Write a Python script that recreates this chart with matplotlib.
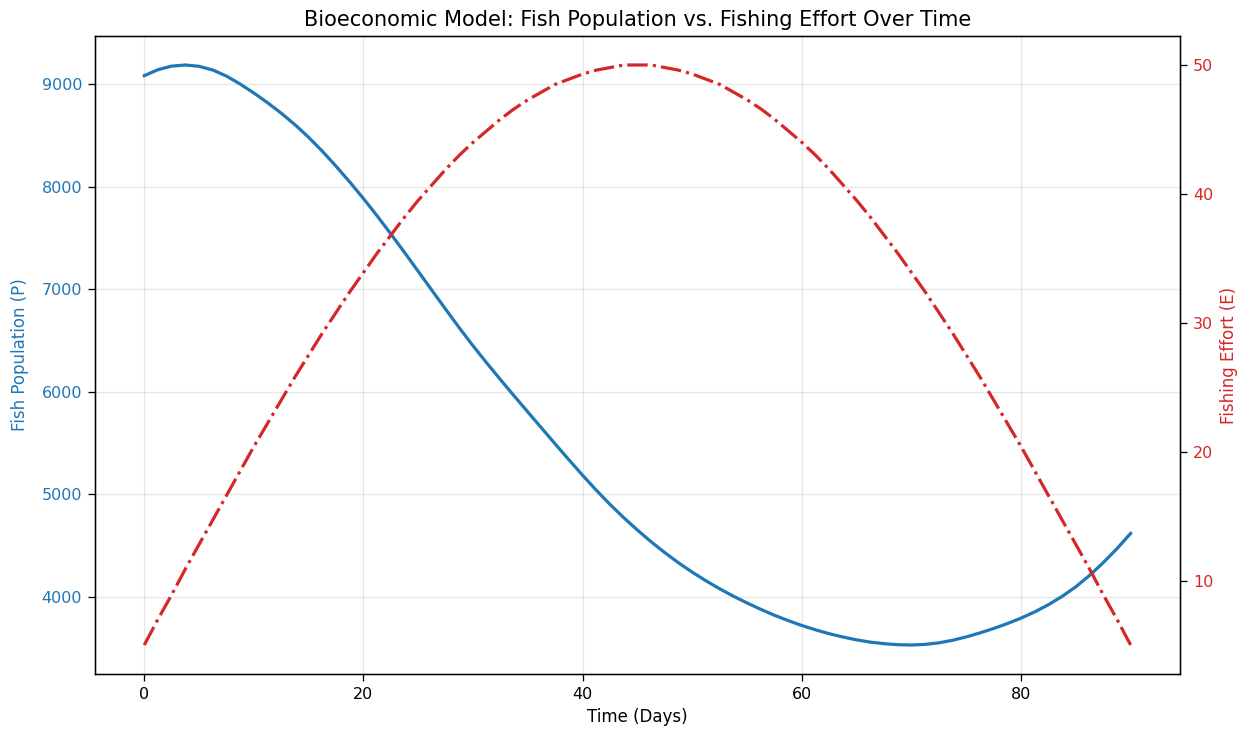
import matplotlib
matplotlib.use("Agg")
import matplotlib.pyplot as plt

days = [0.0, 1.25, 2.5, 3.75, 5.0, 6.25, 7.5, 8.75, 10.0, 11.25, 12.5, 13.75, 15.0,
        16.25, 17.5, 18.75, 20.0, 21.25, 22.5, 23.75, 25.0, 26.25, 27.5, 28.75, 30.0,
        31.25, 32.5, 33.75, 35.0, 36.25, 37.5, 38.75, 40.0, 41.25, 42.5, 43.75, 45.0,
        46.25, 47.5, 48.75, 50.0, 51.25, 52.5, 53.75, 55.0, 56.25, 57.5, 58.75, 60.0,
        61.25, 62.5, 63.75, 65.0, 66.25, 67.5, 68.75, 70.0, 71.25, 72.5, 73.75, 75.0,
        76.25, 77.5, 78.75, 80.0, 81.25, 82.5, 83.75, 85.0, 86.25, 87.5, 88.75, 90.0]
population = [9082, 9140, 9175, 9186, 9173, 9137, 9078, 9000, 8913, 8818, 8716, 8604,
              8481, 8345, 8199, 8045, 7884, 7715, 7539, 7358, 7174, 6989, 6805, 6623,
              6448, 6281, 6119, 5960, 5803, 5647, 5491, 5337, 5186, 5040, 4902, 4773,
              4652, 4538, 4432, 4333, 4242, 4158, 4080, 4008, 3942, 3880, 3822, 3770,
              3722, 3680, 3642, 3610, 3582, 3560, 3545, 3535, 3532, 3538, 3553, 3578,
              3611, 3650, 3693, 3741, 3794, 3855, 3925, 4006, 4100, 4210, 4335, 4471,
              4620]
effort = [5.0, 7.0, 8.9, 10.9, 12.8, 14.7, 16.6, 18.5, 20.4, 22.2, 24.0, 25.8, 27.5,
          29.2, 30.8, 32.4, 33.9, 35.4, 36.8, 38.2, 39.5, 40.7, 41.9, 43.0, 44.0, 44.9,
          45.8, 46.6, 47.3, 47.9, 48.5, 48.9, 49.3, 49.6, 49.8, 50.0, 50.0, 50.0, 49.8,
          49.6, 49.3, 48.9, 48.5, 47.9, 47.3, 46.6, 45.8, 44.9, 44.0, 43.0, 41.9, 40.7,
          39.5, 38.2, 36.8, 35.4, 33.9, 32.4, 30.8, 29.2, 27.5, 25.8, 24.0, 22.2, 20.4,
          18.5, 16.6, 14.7, 12.8, 10.9, 8.9, 7.0, 5.0]

s = 1.17
fig, ax1 = plt.subplots(figsize=(12.46, 7.30), dpi=100)
fig.subplots_adjust(left=0.0762, right=0.947, top=0.9507, bottom=0.0767)

blue = "tab:blue"
red = "tab:red"

for side in ax1.spines.values():
    side.set_linewidth(0.8 * s)

ax1.plot(days, population, color=blue, linewidth=2.3)
ax1.set_xlabel("Time (Days)", fontsize=12, labelpad=4 * s)
ax1.set_ylabel("Fish Population (P)", color=blue, fontsize=12, labelpad=9)
ax1.tick_params(axis="both", labelsize=11.5, length=5.0, pad=4.3, width=0.8 * s)
ax1.tick_params(axis="y", labelcolor=blue)
ax1.grid(True, alpha=0.3, linewidth=0.9)

ax2 = ax1.twinx()
ax2.plot(days, effort, color=red, linestyle="-.", linewidth=2.3)
ax2.set_ylabel("Fishing Effort (E)", color=red, fontsize=12, labelpad=4 * s)
ax2.tick_params(axis="y", labelcolor=red, labelsize=11.5, length=5.0, pad=4.3, width=0.8 * s)
for side in ax2.spines.values():
    side.set_linewidth(0.8 * s)

ax1.set_title("Bioeconomic Model: Fish Population vs. Fishing Effort Over Time",
              fontsize=15, pad=6 * s)

fig.savefig("out.png", dpi=100)
